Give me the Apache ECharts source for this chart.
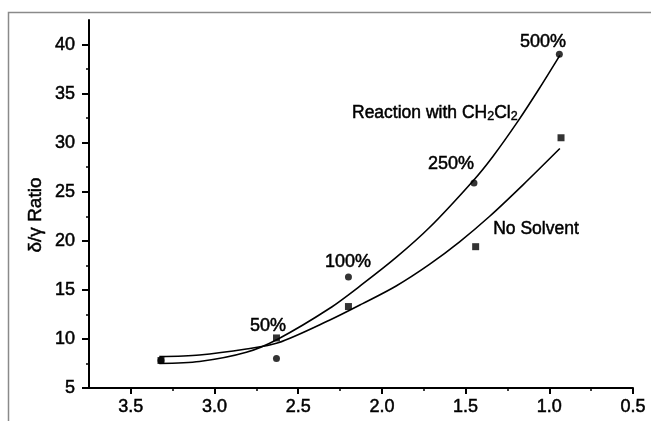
<!DOCTYPE html>
<html>
<head>
<meta charset="utf-8">
<script src="https://cdn.jsdelivr.net/npm/echarts@6/dist/echarts.min.js"></script>
<style>html,body{margin:0;padding:0;background:#fff;}#c{width:651px;height:421px;}</style>
</head>
<body>
<div id="c"></div>
<script>
// Measured data points
const reactionX = [3.32, 2.63, 2.20, 1.45, 0.94];
const reactionY = [7.8, 8.0, 16.3, 25.9, 39.0];
const noSolventX = [3.32, 2.63, 2.20, 1.44, 0.93];
const noSolventY = [7.8, 10.1, 13.3, 19.4, 30.5];
// Fitted curves
const reactionCurveX = [3.33, 3.09, 2.81, 2.62, 2.314, 2.115, 1.915, 1.716, 1.456, 1.337, 1.187, 1.057, 0.937];
const reactionCurveY = [7.5, 7.7, 8.64, 10.0, 13.1, 15.6, 18.3, 21.35, 26.1, 28.6, 32.2, 35.6, 38.9];
const noSolventCurveX = [3.33, 3.09, 2.81, 2.62, 2.314, 2.115, 1.915, 1.716, 1.536, 1.356, 1.157, 0.937];
const noSolventCurveY = [8.2, 8.37, 8.97, 9.6, 11.9, 13.6, 15.4, 17.6, 19.9, 22.5, 25.7, 29.4];
// Axis ticks
const xMajorTicks = [0.5, 1.0, 1.5, 2.0, 2.5, 3.0, 3.5];
const xMinorTicks = [0.75, 1.25, 1.75, 2.25, 2.75, 3.25];
const yMajorTicks = [5, 10, 15, 20, 25, 30, 35, 40];
const yMinorTicks = [7.5, 12.5, 17.5, 22.5, 27.5, 32.5, 37.5];
const pctLabels = ['500%', '250%', '100%', '50%'];

const zip = (xs, ys) => xs.map((x, i) => [x, ys[i]]);
const FONT = 'Liberation Sans, Arial, sans-serif';
const TB = {textBorderColor: '#000', textBorderWidth: 0.5};

const chart = echarts.init(document.getElementById('c'), null, {renderer: 'canvas'});
const xBase = {type: 'value', inverse: true, min: 0.5, max: 3.75, interval: 0.5, gridIndex: 0, position: 'bottom', offset: 0, splitLine: {show: false}};
const yBase = {type: 'value', min: 5, max: 42.5, interval: 5, gridIndex: 0, position: 'left', offset: 0, splitLine: {show: false}};
chart.setOption({
  animation: false,
  grid: {left: 89, right: 18, top: 20, bottom: 33},
  xAxis: [
    Object.assign({}, xBase, {
      axisLine: {show: true, onZero: false, lineStyle: {color: '#000', width: 2}},
      axisTick: {show: true, customValues: xMajorTicks, length: 6, lineStyle: {color: '#000', width: 2}},
      axisLabel: Object.assign({show: true, customValues: xMajorTicks, formatter: v => v.toFixed(1), fontSize: 18, color: '#000', fontFamily: FONT, margin: 10}, TB)
    }),
    Object.assign({}, xBase, {
      axisLine: {show: false},
      axisTick: {show: true, customValues: xMinorTicks, length: 3, lineStyle: {color: '#000', width: 1.5}},
      axisLabel: {show: false}
    })
  ],
  yAxis: [
    Object.assign({}, yBase, {
      axisLine: {show: true, onZero: false, lineStyle: {color: '#000', width: 2}},
      axisTick: {show: true, customValues: yMajorTicks, length: 7, lineStyle: {color: '#000', width: 2}},
      axisLabel: Object.assign({show: true, customValues: yMajorTicks, fontSize: 18, color: '#000', fontFamily: FONT, margin: 14}, TB)
    }),
    Object.assign({}, yBase, {
      axisLine: {show: false},
      axisTick: {show: true, customValues: yMinorTicks, length: 3, lineStyle: {color: '#000', width: 1.5}},
      axisLabel: {show: false}
    })
  ],
  series: [
    {type: 'line', name: 'Reaction curve', data: zip(reactionCurveX, reactionCurveY), smooth: 0.3, symbol: 'none',
     lineStyle: {color: '#000', width: 1.6}},
    {type: 'line', name: 'No solvent curve', data: zip(noSolventCurveX, noSolventCurveY), smooth: 0.3, symbol: 'none',
     lineStyle: {color: '#000', width: 1.6}},
    {type: 'scatter', name: 'Reaction with CH2Cl2', data: zip(reactionX, reactionY), symbol: 'circle', symbolSize: 7,
     itemStyle: {color: '#000'}},
    {type: 'scatter', name: 'No Solvent', data: zip(noSolventX, noSolventY), symbol: 'rect', symbolSize: 7,
     itemStyle: {color: '#000'}}
  ],
  graphic: [
    {type: 'rect', z: -1, shape: {x: 8.5, y: 12.5, width: 700, height: 500}, style: {fill: 'none', stroke: '#8a8a8a', lineWidth: 1.5}},
    {type: 'text', x: 36, y: 215, rotation: Math.PI / 2, style: {text: 'δ/γ Ratio', font: '19px ' + FONT, fill: '#000', stroke: '#000', lineWidth: 0.5, align: 'center', verticalAlign: 'middle'}},
    {type: 'text', x: 543, y: 42, style: {text: pctLabels[0], font: '18px ' + FONT, fill: '#000', stroke: '#000', lineWidth: 0.5, align: 'center', verticalAlign: 'middle'}},
    {type: 'text', x: 451, y: 164, style: {text: pctLabels[1], font: '18px ' + FONT, fill: '#000', stroke: '#000', lineWidth: 0.5, align: 'center', verticalAlign: 'middle'}},
    {type: 'text', x: 348, y: 262, style: {text: pctLabels[2], font: '18px ' + FONT, fill: '#000', stroke: '#000', lineWidth: 0.5, align: 'center', verticalAlign: 'middle'}},
    {type: 'text', x: 268, y: 326, style: {text: pctLabels[3], font: '18px ' + FONT, fill: '#000', stroke: '#000', lineWidth: 0.5, align: 'center', verticalAlign: 'middle'}},
    {type: 'text', x: 536, y: 229, style: {text: 'No Solvent', font: '17.5px ' + FONT, fill: '#000', stroke: '#000', lineWidth: 0.5, align: 'center', verticalAlign: 'middle'}},
    {type: 'text', x: 352, y: 104, style: {
      text: '{n|Reaction with CH}{s|2}{n|Cl}{s|2}', fill: '#000', align: 'left', verticalAlign: 'top',
      rich: {n: {fontSize: 17.5, fontFamily: FONT, fill: '#000', stroke: '#000', lineWidth: 0.5, lineHeight: 18},
             s: {fontSize: 12.5, fontFamily: FONT, fill: '#000', stroke: '#000', lineWidth: 0.4, padding: [7, 0, 0, 0], lineHeight: 18}}
    }}
  ]
});
</script>
</body>
</html>
